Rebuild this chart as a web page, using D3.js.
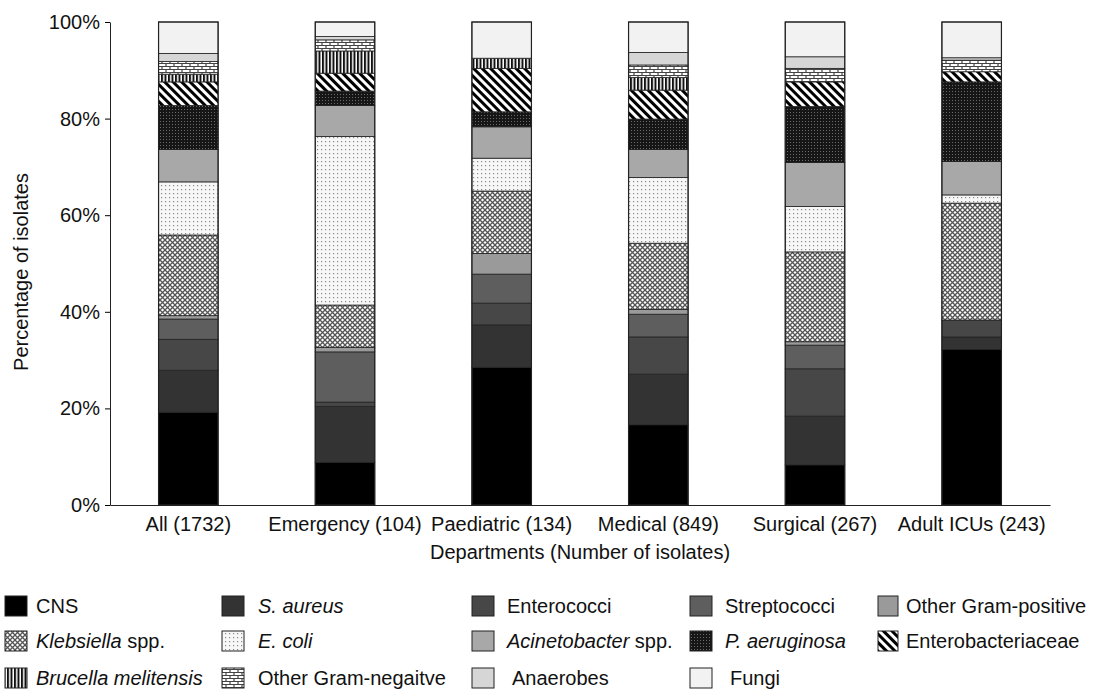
<!DOCTYPE html>
<html><head><meta charset="utf-8">
<script src="https://cdn.jsdelivr.net/npm/d3@7"></script>
<style>body{margin:0;background:#fff;font-family:"Liberation Sans",Arial,sans-serif;}</style>
</head><body><svg id="c" width="1094" height="691"></svg>
<script>
const categories = ["All (1732)","Emergency (104)","Paediatric (134)","Medical (849)","Surgical (267)","Adult ICUs (243)"];
const seriesNames = ["CNS","S. aureus","Enterococci","Streptococci","Other Gram-positive","Klebsiella spp.","E. coli","Acinetobacter spp.","P. aeruginosa","Enterobacteriaceae","Brucella melitensis","Other Gram-negaitve","Anaerobes","Fungi"];
const CNS          = [19.2, 8.8, 28.5, 16.6, 8.3, 32.2];
const SAureus      = [8.7, 11.6, 8.8, 10.5, 10.1, 2.6];
const Enterococci  = [6.4, 0.9, 4.5, 7.7, 9.8, 3.5];
const Streptococci = [4.2, 10.4, 6.0, 4.7, 4.9, 0.0];
const OtherGP      = [0.7, 0.9, 4.3, 1.0, 0.7, 0.0];
const Klebsiella   = [16.7, 8.8, 12.9, 13.7, 18.6, 24.2];
const EColi        = [11.0, 34.9, 6.8, 13.6, 9.4, 1.7];
const Acinetobacter= [6.7, 6.4, 6.5, 5.8, 9.1, 6.9];
const PAeruginosa  = [9.1, 3.0, 3.1, 6.3, 11.6, 16.5];
const Enterobact   = [4.9, 3.7, 9.0, 6.0, 5.1, 2.1];
const Brucella     = [1.6, 4.6, 2.1, 2.6, 0.0, 0.0];
const OtherGN      = [2.6, 2.3, 0.0, 2.6, 2.8, 2.4];
const Anaerobes    = [1.7, 0.7, 0.0, 2.6, 2.4, 0.5];
const Fungi        = [6.5, 3.0, 7.5, 6.3, 7.2, 7.4];
const yTicks = [0, 20, 40, 60, 80, 100];

const seriesValues = [CNS,SAureus,Enterococci,Streptococci,OtherGP,Klebsiella,EColi,Acinetobacter,PAeruginosa,Enterobact,Brucella,OtherGN,Anaerobes,Fungi];
const fills = ["#000","#333","#474747","#5e5e5e","#9a9a9a","url(#pKleb)","url(#pEcoli)","#a8a8a8","url(#pPaer)","url(#pEntb)","url(#pBruc)","url(#pOgn)","#d6d6d6","#f2f2f2"];
const FS = 20;

const svg = d3.select("#c");
const defs = svg.append("defs");
let p = defs.append("pattern").attr("id","pKleb").attr("width",5).attr("height",5).attr("patternUnits","userSpaceOnUse");
p.append("rect").attr("width",5).attr("height",5).attr("fill","#fff");
p.append("path").attr("d","M0,0L5,5M5,0L0,5").attr("stroke","#555").attr("stroke-width",1.3);
p = defs.append("pattern").attr("id","pEcoli").attr("width",4).attr("height",4).attr("patternUnits","userSpaceOnUse");
p.append("rect").attr("width",4).attr("height",4).attr("fill","#f7f7f7");
p.append("rect").attr("x",1).attr("y",1).attr("width",1.2).attr("height",1.2).attr("fill","#8a8a8a");
p = defs.append("pattern").attr("id","pPaer").attr("width",3).attr("height",3).attr("patternUnits","userSpaceOnUse");
p.append("rect").attr("width",3).attr("height",3).attr("fill","#161616");
p.append("rect").attr("x",1).attr("y",1).attr("width",1).attr("height",1).attr("fill","#6a6a6a");
p = defs.append("pattern").attr("id","pEntb").attr("width",6).attr("height",6).attr("patternUnits","userSpaceOnUse").attr("patternTransform","rotate(45)");
p.append("rect").attr("width",6).attr("height",6).attr("fill","#fff");
p.append("rect").attr("width",6).attr("height",3).attr("fill","#000");
p = defs.append("pattern").attr("id","pBruc").attr("width",3.5).attr("height",4).attr("patternUnits","userSpaceOnUse");
p.append("rect").attr("width",3.5).attr("height",4).attr("fill","#fff");
p.append("rect").attr("width",2).attr("height",4).attr("fill","#111");
p = defs.append("pattern").attr("id","pOgn").attr("width",8).attr("height",6).attr("patternUnits","userSpaceOnUse");
p.append("rect").attr("width",8).attr("height",6).attr("fill","#fff");
p.append("path").attr("d","M0,0.5H8M0,3.5H8M2,0.5V3.5M6,3.5V6.5").attr("stroke","#444").attr("stroke-width",1.2).attr("fill","none");

const margin = {left:110, right:1050, top:22, bottom:505};
const x = d3.scaleBand().domain(categories).range([margin.left, margin.right]).paddingInner(0.62).paddingOuter(0.31);
const y = d3.scaleLinear().domain([0,100]).range([margin.bottom, margin.top]);

const table = categories.map((c,i)=>{const o={cat:c}; seriesNames.forEach((s,j)=>o[s]=seriesValues[j][i]); return o;});
const stacked = d3.stack().keys(seriesNames)(table);

const g = svg.append("g");
stacked.forEach((layer,j)=>{
  g.selectAll(null).data(layer).enter().append("rect")
    .attr("x",d=>x(d.data.cat)).attr("width",x.bandwidth())
    .attr("y",d=>y(d[1])).attr("height",d=>Math.max(0,y(d[0])-y(d[1])))
    .attr("fill",fills[j]).attr("stroke",d=>(d[1]-d[0])>0?"#222":"none").attr("stroke-width",0.8);
});
g.selectAll(null).data(categories).enter().append("rect")
  .attr("x",d=>x(d)).attr("width",x.bandwidth()).attr("y",y(100)).attr("height",y(0)-y(100))
  .attr("fill","none").attr("stroke","#222").attr("stroke-width",1.2);

const yAxis = svg.append("g").attr("transform",`translate(${margin.left},0)`)
  .call(d3.axisLeft(y).tickValues(yTicks).tickFormat(d=>d+"%").tickSize(5).tickSizeOuter(0));
yAxis.selectAll("text").attr("font-size",FS).attr("font-family","Liberation Sans, Arial").attr("fill","#111").attr("dx",-2);
yAxis.select(".domain").attr("stroke","#222");
const xAxis = svg.append("g").attr("transform",`translate(0,${margin.bottom})`)
  .call(d3.axisBottom(x).tickSize(0).tickSizeOuter(0));
xAxis.selectAll("text").attr("font-size",FS).attr("font-family","Liberation Sans, Arial").attr("fill","#111").attr("dy","1.15em");
xAxis.select(".domain").attr("stroke","#222");

svg.append("text").attr("transform","translate(28,272) rotate(-90)").attr("text-anchor","middle")
  .attr("font-size",FS).attr("fill","#111").text("Percentage of isolates");
svg.append("text").attr("x",580).attr("y",559).attr("text-anchor","middle")
  .attr("font-size",FS).attr("fill","#111").text("Departments (Number of isolates)");

const legCols = [5, 222, 472, 690, 878];
const legRows = [606, 641, 678];
const italicParts = {"S. aureus":["S. aureus",""],"Klebsiella spp.":["Klebsiella"," spp."],"E. coli":["E. coli",""],"Acinetobacter spp.":["Acinetobacter"," spp."],"P. aeruginosa":["P. aeruginosa",""],"Brucella melitensis":["Brucella melitensis",""]};
const textOffsets = [31, 36, 35, 35, 28];
seriesNames.forEach((s,i)=>{
  const col = i%5, row = Math.floor(i/5);
  const lx = legCols[col], ly = legRows[row];
  svg.append("rect").attr("x",lx).attr("y",ly-10).attr("width",col===4?20:22).attr("height",20)
    .attr("fill",fills[i]).attr("stroke","#222").attr("stroke-width",1);
  const t = svg.append("text").attr("x",lx+textOffsets[col]+(row===2&&col>=2?5:0)).attr("y",ly+7).attr("font-size",FS).attr("fill","#111");
  if(italicParts[s]){
    t.append("tspan").attr("font-style","italic").text(italicParts[s][0]);
    if(italicParts[s][1]) t.append("tspan").text(italicParts[s][1]);
  } else t.text(s);
});
</script></body></html>
